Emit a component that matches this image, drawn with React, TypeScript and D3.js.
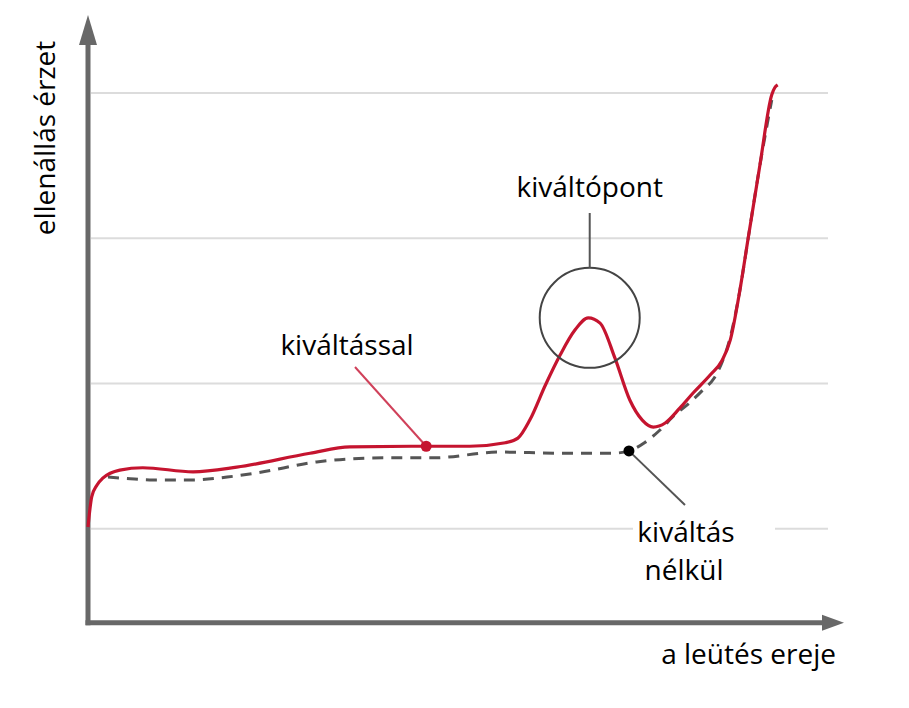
import React from 'react';
import * as d3 from 'd3';

// curve with trigger (red)
const withTriggerX = [0, 0.5, 1.2, 2.0, 4.3, 7.4, 14.2, 20.1, 30.0, 35.4, 45.7, 51.6, 56.4, 58.1, 59.7, 61.8, 63.8, 65.8, 67.6, 69.2, 71.2, 73.2, 74.9, 76.4, 78.0, 80.0, 81.8, 84.1, 85.7, 86.8, 88.1, 89.2, 90.8, 92.4, 92.8, 93.2];
const withTriggerY = [25.3, 30.5, 32.5, 33.7, 35.1, 35.5, 34.8, 35.6, 38.0, 39.1, 39.2, 39.2, 39.8, 40.6, 43.7, 49.7, 54.9, 59.2, 61.3, 60.4, 54.4, 47.2, 43.7, 42.5, 43.2, 45.8, 48.4, 51.5, 54.0, 57.5, 66.1, 74.9, 87.6, 99.7, 100.9, 101.4];

// curve without trigger (dashed)
const noTriggerX = [2.7, 5.7, 8.8, 14.2, 18.8, 22.8, 30.9, 39.9, 46.6, 55.7, 63.8, 70.9, 73.1, 75.3, 77.3, 79.3, 81.4, 83.1, 84.6, 85.7, 86.7, 88.1, 89.2, 90.8, 92.4];
const noTriggerY = [33.9, 33.6, 33.4, 33.4, 33.9, 34.6, 36.5, 37.2, 37.2, 38.2, 38.0, 38.0, 38.4, 39.9, 42.0, 44.6, 46.8, 48.9, 50.9, 53.7, 57.5, 66.1, 74.9, 87.6, 98.8];

const gridValues = [25, 50, 75, 100];
const axisBaseValue = 8.8;

// annotation anchors
const triggerPoint = { x: 67.8, y: 61.3 };
const withDot = { x: 45.7, y: 39.2 };
const noDot = { x: 73.1, y: 38.4 };

const RED = '#c5142f';
const AXIS = '#686868';
const FONT = '"Open Sans", "Noto Sans", sans-serif';

export default function App() {
  const width = 909;
  const height = 708;

  const x = d3.scaleLinear().domain([0, 100]).range([88, 828]);
  const y = d3.scaleLinear().domain([0, 100]).range([674, 93]);

  const line = d3.line<[number, number]>()
    .x(d => x(d[0]))
    .y(d => y(d[1]))
    .curve(d3.curveMonotoneX);

  const redPts = withTriggerX.map((v, i) => [v, withTriggerY[i]] as [number, number]);
  const grayPts = noTriggerX.map((v, i) => [v, noTriggerY[i]] as [number, number]);

  const x0 = x(0);
  const yb = y(axisBaseValue);
  const xEnd = x(100);

  const cx = x(triggerPoint.x);
  const cy = y(triggerPoint.y);
  const r = 50;

  return (
    <svg width={width} height={height} style={{ position: 'absolute', left: 0, top: 0, background: '#fff' }}>
      {/* grid */}
      {gridValues.map(g => (
        <line key={g} x1={x0 + 3} x2={xEnd} y1={y(g)} y2={y(g)} stroke="#dcdcdc" strokeWidth={2} />
      ))}

      {/* white box behind lower label */}
      <rect x={633} y={512} width={142} height={80} fill="#fff" />

      {/* axes */}
      <line x1={x0} x2={x0} y1={yb + 2.5} y2={42} stroke={AXIS} strokeWidth={5} />
      <path d={`M${x0 - 9},45 L${x0},15 L${x0 + 9},45 Z`} fill={AXIS} />
      <line x1={x0 - 2.5} x2={825} y1={yb} y2={yb} stroke={AXIS} strokeWidth={5} />
      <path d={`M822,${yb - 8} L844,${yb} L822,${yb + 8} Z`} fill={AXIS} />

      {/* curves */}
      <path d={line(grayPts) || ''} fill="none" stroke="#555" strokeWidth={3} strokeDasharray="11,8" />
      <path d={line(redPts) || ''} fill="none" stroke={RED} strokeWidth={3.2} />

      {/* trigger point annotation */}
      <circle cx={cx} cy={cy} r={r} fill="none" stroke="#444" strokeWidth={2} />
      <line x1={cx} x2={cx} y1={cy - r} y2={213} stroke="#555" strokeWidth={2} />
      <text x={cx} y={197} textAnchor="middle" fontFamily={FONT} fontSize={28} fill="#000">kiváltópont</text>

      {/* with trigger */}
      <line x1={355} y1={367} x2={x(withDot.x)} y2={y(withDot.y)} stroke="#d0415a" strokeWidth={2} />
      <circle cx={x(withDot.x)} cy={y(withDot.y)} r={5.5} fill={RED} />
      <text x={347} y={355} textAnchor="middle" fontFamily={FONT} fontSize={28} fill="#000">kiváltással</text>

      {/* without trigger */}
      <line x1={x(noDot.x)} y1={y(noDot.y)} x2={685} y2={505} stroke="#555" strokeWidth={2} />
      <circle cx={x(noDot.x)} cy={y(noDot.y)} r={5.5} fill="#000" />
      <text x={686} y={542} textAnchor="middle" fontFamily={FONT} fontSize={28} fill="#000">kiváltás</text>
      <text x={684} y={580} textAnchor="middle" fontFamily={FONT} fontSize={28} fill="#000">nélkül</text>

      {/* axis labels */}
      <text x={836} y={664} textAnchor="end" fontFamily={FONT} fontSize={28} fill="#000">a leütés ereje</text>
      <text transform={`translate(55,138) rotate(-90)`} textAnchor="middle" fontFamily={FONT} fontSize={28} fill="#000">ellenállás érzet</text>
    </svg>
  );
}
